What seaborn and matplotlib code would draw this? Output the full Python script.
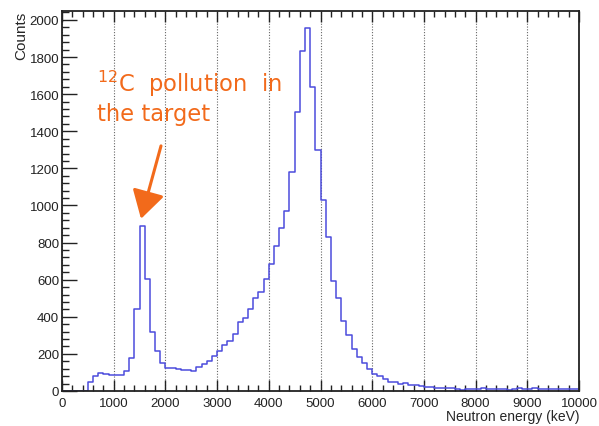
import numpy as np
import pandas as pd
import matplotlib
matplotlib.use("Agg")
import matplotlib.pyplot as plt
from matplotlib.ticker import MultipleLocator
import seaborn as sns

# neutron energy histogram, 100 keV bins from 0 to 10000 keV
bin_width = 100
bin_edges = list(range(0, 10001, bin_width))
counts = [
    0, 0, 0, 0, 0, 47, 79, 97, 93, 88,
    86, 86, 108, 176, 442, 888, 604, 320, 214, 151,
    122, 122, 118, 112, 114, 106, 128, 146, 163, 190,
    217, 248, 271, 307, 370, 393, 442, 501, 532, 604,
    685, 780, 879, 972, 1182, 1506, 1835, 1957, 1637, 1301,
    1031, 828, 593, 500, 379, 302, 226, 185, 151, 119,
    90, 79, 65, 50, 46, 38, 41, 34, 30, 25,
    20, 24, 18, 18, 16, 16, 11, 7, 10, 13,
    12, 14, 13, 13, 12, 11, 8, 12, 15, 10,
    13, 14, 12, 12, 11, 12, 11, 12, 11, 12,
]
x_ticks = list(range(0, 10001, 1000))
y_ticks = list(range(0, 2001, 200))

df = pd.DataFrame({"energy": np.array(bin_edges[:-1]) + bin_width / 2, "counts": counts})

sns.set_style("ticks")
plt.rcParams["font.family"] = ["Liberation Sans", "DejaVu Sans"]

fig = plt.figure(figsize=(5.99, 4.27), dpi=100)
ax = fig.add_axes([62 / 599, 35 / 427, 517 / 599, 380 / 427])

sns.histplot(data=df, x="energy", weights="counts", bins=bin_edges,
             element="step", fill=False, color="#4c4cdc", linewidth=1.1, ax=ax)

ax.set_xlim(0, 10000)
ax.set_ylim(0, 2048)
ax.set_xticks(x_ticks)
ax.set_yticks(y_ticks)
ax.xaxis.set_minor_locator(MultipleLocator(200))
ax.yaxis.set_minor_locator(MultipleLocator(40))
ax.grid(axis="x", which="major", linestyle=(0, (1, 1.5)), color="#666666", linewidth=0.8)
ax.set_axisbelow(True)

ax.tick_params(which="both", direction="in", top=True, right=False, colors="#222222",
               labelsize=9.5, width=1.0)
ax.tick_params(axis="x", which="major", length=8, pad=4)
ax.tick_params(axis="x", which="minor", length=4.5)
ax.tick_params(axis="y", which="major", length=11, pad=2)
ax.tick_params(axis="y", which="minor", length=5)
for s in ax.spines.values():
    s.set_linewidth(1.3)
    s.set_color("#222222")

ax.set_xlabel("")
ax.set_ylabel("")
ax.text(1.0, -0.047, "Neutron energy (keV)", transform=ax.transAxes,
        ha="right", va="top", fontsize=10)
ax.text(-0.078, 1.0, "Counts", transform=ax.transAxes, rotation=90,
        ha="center", va="top", fontsize=11)

# annotation pointing at the carbon peak
orange = "#f26a1b"
plt.rcParams["mathtext.fontset"] = "dejavusans"
ax.text(677, 1617, r"$^{12}$C  pollution  in", color=orange, fontsize=16.3,
        family="DejaVu Sans", ha="left", va="baseline")
ax.text(677, 1458, "the target", color=orange, fontsize=16.3,
        family="DejaVu Sans", ha="left", va="baseline")

low = df[df["energy"] < 3000]
peak = low.loc[low["counts"].idxmax()]
tip = (peak["energy"] - 22, peak["counts"] + 40)
ax.annotate("", xy=tip, xytext=(tip[0] + 387, tip[1] + 393),
            arrowprops=dict(arrowstyle="-|>,head_length=0.85,head_width=0.5",
                            mutation_scale=20, color=orange, lw=2.2,
                            shrinkA=0, shrinkB=0))

fig.savefig("out.png", dpi=100)
